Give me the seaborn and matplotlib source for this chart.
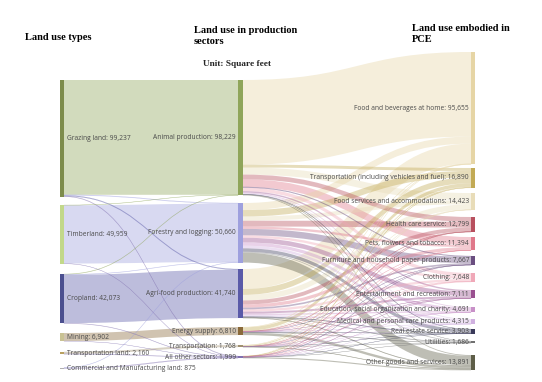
import numpy as np
import matplotlib.pyplot as plt
from matplotlib.path import Path
from matplotlib.patches import PathPatch, Rectangle
import seaborn as sns

sns.set_theme(style="white")
plt.rcParams['font.family'] = ['Open Sans', 'DejaVu Sans']

# ---- data (square feet) ----
land_types = ["Grazing land", "Timberland", "Cropland", "Mining",
              "Transportation land", "Commercial and Manufacturing land"]
land_values = [99237, 49959, 42073, 6902, 2160, 875]

sectors = ["Animal production", "Forestry and logging", "Agri-food production",
           "Energy supply", "Transportation", "All other sectors"]
sector_values = [98229, 50660, 41740, 6810, 1768, 1999]

pce = ["Food and beverages at home", "Transportation (including vehicles and fuel)",
       "Food services and accommodations", "Health care service",
       "Pets, flowers and tobacco", "Furniture and household paper products",
       "Clothing", "Entertainment and recreation",
       "Education, social organization and charity",
       "Medical and personal care products", "Real estate service",
       "Utilities", "Other goods and services"]
pce_values = [95655, 16890, 14423, 12799, 11394, 7667, 7648, 7111, 4691, 4315,
              3903, 1686, 13891]

# land type -> sector (columns follow `sectors`)
from_grazing = [97700, 500, 600, 0, 0, 437]
from_timber = [200, 49600, 0, 0, 0, 159]
from_crop = [329, 300, 41140, 0, 0, 304]
from_mining = [0, 0, 0, 6810, 0, 92]
from_transport_land = [0, 0, 0, 0, 1768, 392]
from_commercial = [0, 260, 0, 0, 0, 615]

# sector -> PCE category (columns follow `pce`)
from_animal = [72000, 2500, 6000, 4000, 6500, 600, 3000, 1200, 700, 700, 200, 100, 729]
from_forestry = [6000, 5500, 3500, 5000, 2000, 5500, 2000, 4000, 2800, 2200, 3000, 700, 8460]
from_agrifood = [17000, 5000, 4700, 3400, 2800, 1400, 2000, 1700, 1100, 1300, 500, 400, 440]
from_energy = [300, 3000, 100, 200, 50, 100, 100, 150, 50, 80, 150, 400, 2130]
from_transport = [200, 800, 100, 100, 30, 50, 30, 50, 30, 20, 30, 28, 300]
from_other = [155, 90, 23, 99, 14, 17, 518, 11, 11, 15, 23, 58, 965]

land_colors = ["#7d8c4c", "#c2d88a", "#4b4f8f", "#c9c293", "#b8a060", "#b0b0b0"]
sector_colors = ["#8fa55a", "#9ea0de", "#5a5aa8", "#8a6a3a", "#a09070", "#8070b0"]
pce_colors = ["#e6d5a5", "#c2aa55", "#e8dcb8", "#b8505e", "#e0788a", "#6a4e80",
              "#f0a8b8", "#9a5090", "#c890c8", "#d0b0e0", "#3a3a5a", "#707070",
              "#5e5e48"]

flows1 = np.array([from_grazing, from_timber, from_crop, from_mining,
                   from_transport_land, from_commercial], dtype=float)
flows2 = np.array([from_animal, from_forestry, from_agrifood, from_energy,
                   from_transport, from_other], dtype=float)

# ---- layout ----
scale = 1.175 / 1000  # px per square foot
col_x = [60, 238, 471]
col_w = [4, 5, 4]
col_start = [80, 80, 52]
col_gaps = [[8.4, 10.3, 9.6, 10.6, 13.3],
            [7.6, 6.5, 9, 10, 8.8],
            [3.6, 5.2, 7, 5, 5.6, 8, 8, 8.6, 6.5, 5, 7.4, 12]]


def node_tops(heights, start, gaps):
    tops = [start]
    for h, g in zip(heights[:-1], gaps):
        tops.append(tops[-1] + h + g)
    return np.array(tops)


h_land = flows1.sum(axis=1) * scale
h_sector = flows1.sum(axis=0) * scale
h_pce = flows2.sum(axis=0) * scale
tops = [node_tops(h_land, col_start[0], col_gaps[0]),
        node_tops(h_sector, col_start[1], col_gaps[1]),
        node_tops(h_pce, col_start[2], col_gaps[2])]
heights = [h_land, h_sector, h_pce]


def band(ax, x0, y0, x1, y1, w, color, alpha=0.4):
    xm = (x0 + x1) / 2
    verts = [(x0, y0), (xm, y0), (xm, y1), (x1, y1),
             (x1, y1 + w), (xm, y1 + w), (xm, y0 + w), (x0, y0 + w), (x0, y0)]
    codes = [Path.MOVETO, Path.CURVE4, Path.CURVE4, Path.CURVE4,
             Path.LINETO, Path.CURVE4, Path.CURVE4, Path.CURVE4, Path.CLOSEPOLY]
    lw = 0.25 if w < 0.8 else 0
    ax.add_patch(PathPatch(Path(verts, codes), facecolor=color, edgecolor=color,
                           lw=lw, alpha=alpha))


def draw_links(ax, flows, src, dst, colors):
    xs = col_x[src] + col_w[src]
    xd = col_x[dst]
    out_off = tops[src].copy()
    in_off = tops[dst].copy()
    # position at target: stacked in source order
    in_pos = np.zeros_like(flows)
    for j in range(flows.shape[1]):
        y = in_off[j]
        for i in range(flows.shape[0]):
            in_pos[i, j] = y
            y += flows[i, j] * scale
    links = []
    for i in range(flows.shape[0]):
        y = out_off[i]
        for j in range(flows.shape[1]):
            w = flows[i, j] * scale
            if flows[i, j] > 0:
                links.append((w, y, in_pos[i, j], j))
            y += w
    for w, y0, y1, j in sorted(links, key=lambda t: -t[0]):
        band(ax, xs, y0, xd, y1, w, colors[j])


fig = plt.figure(figsize=(5.42, 3.82), dpi=100)
ax = fig.add_axes([0, 0, 1, 1])
ax.set_xlim(0, 542)
ax.set_ylim(382, 0)
ax.axis('off')

draw_links(ax, flows1, 0, 1, sector_colors)
draw_links(ax, flows2, 1, 2, pce_colors)

cols_colors = [land_colors, sector_colors, pce_colors]
for c in range(3):
    for t, h, col in zip(tops[c], heights[c], cols_colors[c]):
        ax.add_patch(Rectangle((col_x[c], t), col_w[c], max(h, 1.0),
                               facecolor=col, edgecolor='none'))

lab_kw = dict(fontsize=4.75, color='#4a4a4a', va='center')
for name, v, t, h in zip(land_types, land_values, tops[0], heights[0]):
    ax.text(col_x[0] + col_w[0] + 3, t + h / 2, f"{name}: {v:,}", ha='left', **lab_kw)
for name, v, t, h in zip(sectors, sector_values, tops[1], heights[1]):
    ax.text(col_x[1] - 2, t + h / 2, f"{name}: {v:,}", ha='right', **lab_kw)
for name, v, t, h in zip(pce, pce_values, tops[2], heights[2]):
    ax.text(col_x[2] - 2, t + h / 2, f"{name}: {v:,}", ha='right', **lab_kw)

title_kw = dict(fontsize=7.5, fontweight='bold', family='Liberation Serif',
                color='black', va='center', ha='left')
ax.text(25, 37, "Land use types", **title_kw)
ax.text(194, 36, "Land use in production\nsectors", linespacing=1.35, **title_kw)
ax.text(412, 34, "Land use embodied in\nPCE", linespacing=1.35, **title_kw)
ax.text(203, 64, "Unit: Square feet", fontsize=6.7, fontweight='bold',
        family='Liberation Serif', va='center', ha='left')

fig.savefig("out.png", dpi=100, facecolor='white')
